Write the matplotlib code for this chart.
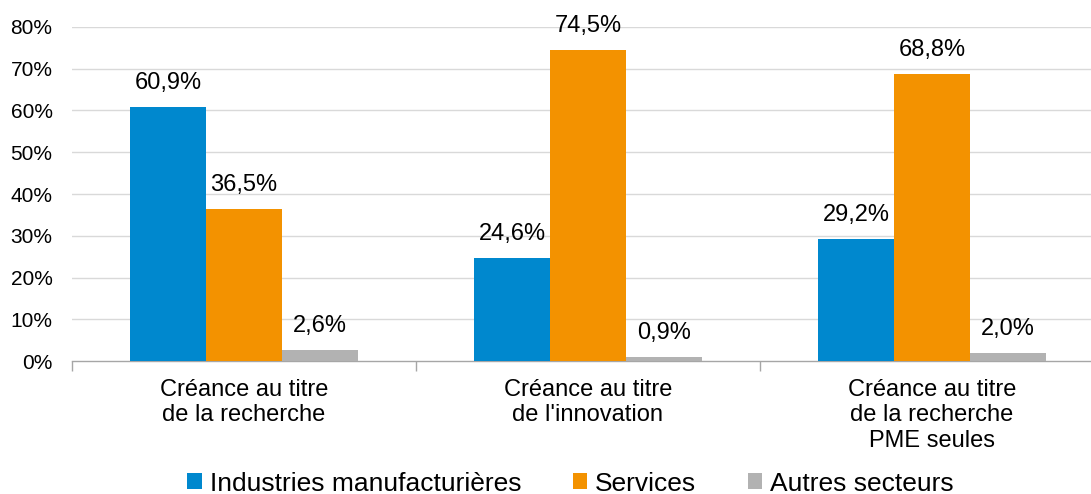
import numpy as np
import matplotlib.pyplot as plt
from matplotlib.patches import Patch
from matplotlib.ticker import FixedLocator, PercentFormatter

plt.rcParams["font.family"] = ["Liberation Sans", "DejaVu Sans"]

categories = ["Créance au titre\nde la recherche",
              "Créance au titre\nde l'innovation",
              "Créance au titre\nde la recherche\nPME seules"]
series = ["Industries manufacturières", "Services", "Autres secteurs"]
industrie = [60.9, 24.6, 29.2]
services = [36.5, 74.5, 68.8]
autres = [2.6, 0.9, 2.0]
colors = ["#0088CE", "#F39200", "#B2B2B2"]

fig = plt.figure(figsize=(10.91, 4.94), dpi=100)
ax = fig.add_axes([72 / 1091, 133 / 494, 1032 / 1091, 334 / 494])

x = np.arange(len(categories))
w = 0.221
for i, (vals, col) in enumerate(zip([industrie, services, autres], colors)):
    pos = x + (i - 1) * w
    ax.bar(pos, vals, width=w, color=col, zorder=3)
    for p, v in zip(pos, vals):
        ax.annotate(f"{v:.1f}%".replace(".", ","), (p, v), xytext=(0, 13),
                    textcoords="offset points", ha="center", va="baseline",
                    fontsize=17)

ax.set_xlim(-0.5, 2.5)
ax.set_ylim(0, 80)
ax.yaxis.set_major_locator(FixedLocator(np.arange(0, 81, 10)))
ax.yaxis.set_major_formatter(PercentFormatter(decimals=0))
ax.tick_params(axis="y", length=0, pad=14, labelsize=15)
for yv in range(10, 81, 10):
    ax.axhline(yv, color="#D9D9D9", lw=1, zorder=1)

ax.set_xticks([-0.5, 0.5, 1.5, 2.5])
ax.set_xticklabels([])
ax.set_xticks(x, minor=True)
ax.set_xticklabels(categories, minor=True, fontsize=17, linespacing=1.19)
ax.tick_params(axis="x", which="major", length=7, width=1, color="#A6A6A6")
ax.tick_params(axis="x", which="minor", length=0, pad=13)

for s in ["top", "right", "left"]:
    ax.spines[s].set_visible(False)
ax.spines["bottom"].set_color("#A6A6A6")
ax.spines["bottom"].set_linewidth(1)

handles = [Patch(facecolor=c) for c in colors]
fig.legend(handles, series, loc="center", bbox_to_anchor=(0.523, 0.021),
           ncol=3, frameon=False, fontsize=19, handlelength=0.55,
           handleheight=0.55, handletextpad=0.3, columnspacing=1.95,
           borderaxespad=0, borderpad=0)

fig.savefig("out.png", dpi=100)
